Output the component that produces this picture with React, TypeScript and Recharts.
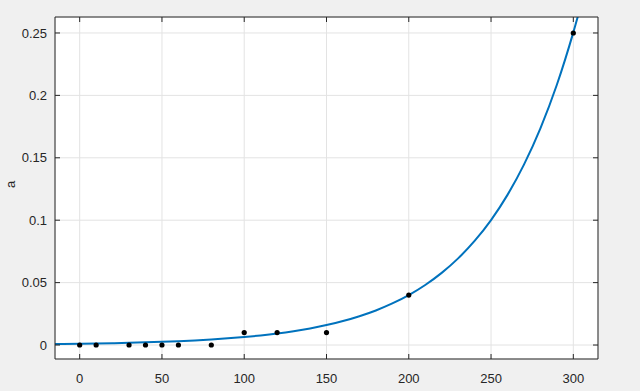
import {
  ComposedChart,
  Line,
  Scatter,
  XAxis,
  YAxis,
  CartesianGrid,
  Label,
} from "recharts";

// measured points
const sampleX = [0, 10, 30, 40, 50, 60, 80, 100, 120, 150, 200, 300];
const sampleA = [0, 0, 0, 0, 0, 0, 0, 0.01, 0.01, 0.01, 0.04, 0.25];

// fitted curve
const fitX = [
  -15, -10, 0, 10, 20, 30, 40, 50, 60, 70, 80, 90, 100, 110, 120, 130, 140,
  150, 160, 170, 180, 190, 200, 210, 220, 230, 240, 250, 260, 270, 280, 290,
  300, 305,
];
const fitA = [
  0.00078, 0.00085, 0.00102, 0.00123, 0.00148, 0.00177, 0.00213, 0.00256,
  0.00308, 0.00369, 0.00444, 0.00533, 0.0064, 0.00769, 0.00924, 0.0111,
  0.0133, 0.016, 0.0192, 0.0231, 0.0277, 0.0333, 0.04, 0.0481, 0.0578, 0.0694,
  0.0834, 0.1001, 0.1203, 0.1445, 0.1736, 0.2085, 0.2505, 0.274,
];

const xTicks = [0, 50, 100, 150, 200, 250, 300];
const yTicks = [0, 0.05, 0.1, 0.15, 0.2, 0.25];

const samples = sampleX.map((x, i) => ({ x, a: sampleA[i] }));
const fit = fitX.map((x, i) => ({ x, a: fitA[i] }));

const font = "Liberation Sans, Arial, sans-serif";
const ink = "#262626";
const TL = 5; // inward tick length

// MATLAB-style ticks: mark drawn inside the box, label outside
const BottomTick = ({ x, y, payload, m }: any) => (
  <g>
    <line x1={x} x2={x} y1={y - m} y2={y - m - TL} stroke={ink} />
    <text x={x} y={y} dy="0.71em" textAnchor="middle" fontFamily={font} fontSize={13} fill={ink}>
      {payload.value}
    </text>
  </g>
);
const LeftTick = ({ x, y, payload, m }: any) => (
  <g>
    <line x1={x + m} x2={x + m + TL} y1={y} y2={y} stroke={ink} />
    <text x={x} y={y} dy="0.355em" textAnchor="end" fontFamily={font} fontSize={13} fill={ink}>
      {payload.value}
    </text>
  </g>
);
const TopTick = ({ x, y }: any) => (
  <line x1={x} x2={x} y1={y} y2={y + TL} stroke={ink} />
);
const RightTick = ({ x, y }: any) => (
  <line x1={x} x2={x - TL} y1={y} y2={y} stroke={ink} />
);

export default function App() {
  return (
    <div
      style={{
        position: "absolute",
        left: 0,
        top: 0,
        width: 640,
        height: 391,
        background: "#f0f0f0",
      }}
    >
      <ComposedChart
        width={640}
        height={391}
        margin={{ top: 16, right: 41, bottom: 0, left: 10 }}
      >
        <CartesianGrid stroke="#e3e3e3" fill="#ffffff" xAxisId="b" yAxisId="l" />
        <XAxis
          xAxisId="b"
          type="number"
          dataKey="x"
          domain={[-15, 315]}
          ticks={xTicks}
          allowDataOverflow
          height={32}
          tickSize={0}
          tickLine={false}
          tickMargin={15}
          tick={<BottomTick m={15} />}
          stroke={ink}
        />
        <XAxis
          xAxisId="t"
          orientation="top"
          type="number"
          dataKey="x"
          domain={[-15, 315]}
          ticks={xTicks}
          allowDataOverflow
          height={1}
          tickSize={0}
          tickLine={false}
          tickMargin={0}
          tick={<TopTick />}
          stroke={ink}
        />
        <YAxis
          yAxisId="l"
          type="number"
          dataKey="a"
          domain={[-0.0112, 0.2628]}
          ticks={yTicks}
          allowDataOverflow
          width={45}
          tickSize={0}
          tickLine={false}
          tickMargin={8}
          tick={<LeftTick m={8} />}
          stroke={ink}
        >
          <Label
            value="a"
            angle={-90}
            position="insideLeft"
            offset={0}
            style={{ fontFamily: font, fontSize: 13, fill: ink }}
          />
        </YAxis>
        <YAxis
          yAxisId="r"
          orientation="right"
          type="number"
          domain={[-0.0112, 0.2628]}
          ticks={yTicks}
          allowDataOverflow
          width={1}
          tickSize={0}
          tickLine={false}
          tickMargin={0}
          tick={<RightTick />}
          stroke={ink}
        />
        <Line
          xAxisId="b"
          yAxisId="l"
          data={fit}
          dataKey="a"
          type="monotone"
          stroke="#0072BD"
          strokeWidth={2}
          dot={false}
          activeDot={false}
          isAnimationActive={false}
        />
        <Scatter
          xAxisId="b"
          yAxisId="l"
          data={samples}
          dataKey="a"
          fill="#000"
          shape={(p: any) => <circle cx={p.cx} cy={p.cy} r={2.6} fill="#000" />}
          isAnimationActive={false}
        />
      </ComposedChart>
    </div>
  );
}
